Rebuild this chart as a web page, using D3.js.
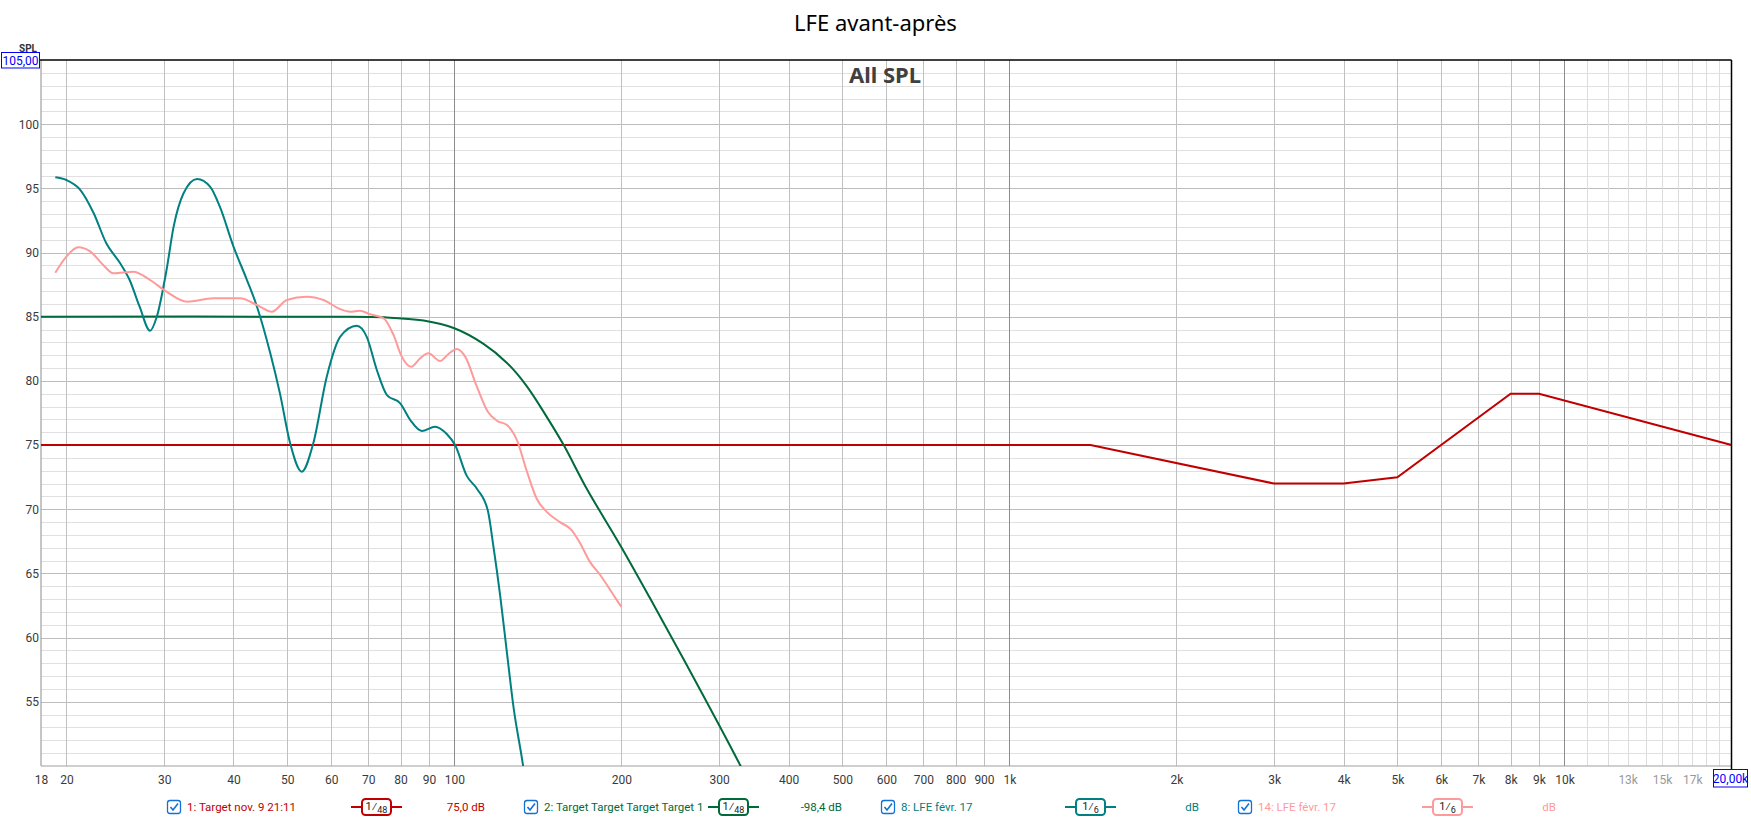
<!DOCTYPE html>
<html>
<head>
<meta charset="utf-8">
<script src="https://cdn.jsdelivr.net/npm/d3@7"></script>
<style>
  html, body { margin: 0; padding: 0; background: #fff; }
  svg { display: block; }
</style>
</head>
<body>
<svg id="chart" width="1751" height="818"></svg>
<script>
// ---------------- DATA ----------------
const titleText = "LFE avant-après";
const subTitleText = "All SPL";

// Series 1: red target (straight segments)
const redFreq = [18, 1400, 3000, 4000, 5000, 8000, 9000, 20000];
const redDb   = [75, 75, 72, 72, 72.5, 79, 79, 75];

// Series 2: dark green target
const greenFreq = [18, 60, 75, 88, 100, 112.7, 124.4, 135, 146.7, 157.4, 173.2, 199, 225, 259, 327, 340];
const greenDb   = [85, 85, 84.95, 84.7, 84.1, 82.9, 81.4, 79.6, 77.2, 75.0, 71.6, 67.2, 63.1, 58.3, 50.1, 48.6];

// Series 8: teal measurement
const tealFreq = [19.1, 20.0, 21.2, 22.4, 23.6, 25.0, 26.0, 27.1, 28.3, 29.1, 30.3, 31.2, 32.5, 34.4, 36.3, 37.8,
                  40.0, 42.3, 44.1, 46.6, 48.5, 50.6, 53.1, 55.7, 58.9, 62.3, 66.7, 69.5, 72.5, 75.6, 79.9, 83.3,
                  87.4, 92.3, 96.9, 100.3, 105.3, 109.8, 114.9, 117.6, 121, 124.4, 127.8, 132.9, 135];
const tealDb   = [95.86, 95.65, 94.87, 93.06, 90.72, 89.16, 87.86, 85.78, 83.91, 85.0, 88.64, 92.0, 94.6, 95.73, 95.13, 93.57,
                  90.46, 87.86, 85.78, 82.15, 79.03, 75.14, 72.93, 75.14, 80.33, 83.45, 84.3, 83.45, 80.85, 78.9, 78.25, 76.95,
                  76.1, 76.43, 75.86, 75.0, 72.6, 71.6, 69.9, 67.1, 63.2, 58.8, 54.6, 50.1, 48.0];

// Series 14: pink measurement
const pinkFreq = [19.1, 20.0, 21.0, 22.1, 23.3, 24.3, 26.4, 28.3, 30.3, 33.0, 36.8, 41.1, 44.1, 46.9, 49.9, 54.2,
                  58.1, 62.2, 64.9, 67.6, 70.5, 74.6, 77.7, 80.4, 83.6, 86.8, 89.8, 94.2, 97.6, 101, 104.6, 109.8,
                  114.9, 119.3, 124.4, 129.6, 135, 140.8, 146.7, 155, 162.5, 168.3, 175.5, 183, 195, 200];
const pinkDb   = [88.43, 89.68, 90.41, 90.07, 89.03, 88.38, 88.51, 87.86, 86.95, 86.17, 86.43, 86.43, 85.91, 85.39, 86.3, 86.56,
                  86.3, 85.6, 85.39, 85.47, 85.19, 84.88, 83.58, 81.89, 81.1, 81.76, 82.15, 81.55, 82.1, 82.49, 81.89, 79.55,
                  77.6, 76.9, 76.56, 75.4, 73.0, 70.8, 69.8, 69.0, 68.4, 67.4, 65.9, 64.9, 63.1, 62.4];

// Axis ticks
const xTickValues = [18, 20, 30, 40, 50, 60, 70, 80, 90, 100, 200, 300, 400, 500, 600, 700, 800, 900,
                     1000, 2000, 3000, 4000, 5000, 6000, 7000, 8000, 9000, 10000, 13000, 15000, 17000];
const xTickLabels = ["18", "20", "30", "40", "50", "60", "70", "80", "90", "100", "200", "300", "400", "500", "600", "700", "800", "900",
                     "1k", "2k", "3k", "4k", "5k", "6k", "7k", "8k", "9k", "10k", "13k", "15k", "17k"];
const xFaintLabels = [13000, 15000, 17000];
const xGridMajor = [20, 30, 40, 50, 60, 70, 80, 90, 200, 300, 400, 500, 600, 700, 800, 900,
                    2000, 3000, 4000, 5000, 6000, 7000, 8000, 9000];
const xGridDecade = [100, 1000, 10000];
const xGridMinor = [11000, 12000, 13000, 14000, 15000, 16000, 17000, 18000, 19000];
const yTickValues = [55, 60, 65, 70, 75, 80, 85, 90, 95, 100];
const yGridMinor = [51, 52, 53, 54, 56, 57, 58, 59, 61, 62, 63, 64, 66, 67, 68, 69, 71, 72, 73, 74, 76, 77, 78, 79,
                    81, 82, 83, 84, 86, 87, 88, 89, 91, 92, 93, 94, 96, 97, 98, 99, 101, 102, 103, 104];
const yMaxLabel = "105,00";
const xMaxLabel = "20,00k";
const yAxisName = "SPL";

// Legend
const legendNames = ["1: Target nov. 9 21:11", "2: Target Target Target Target 1", "8: LFE févr. 17", "14: LFE févr. 17"];
const legendSmooth = ["48", "48", "6", "6"];
const legendValues = ["75,0 dB", "-98,4 dB", "dB", "dB"];
const seriesColors = ["#c00000", "#006a3a", "#008080", "#ff9a9a"];

// ---------------- CHART ----------------
const svg = d3.select("#chart");
const defs = svg.append("defs");
const L = 41, R = 1731.5, T = 60, B = 766;
const x = d3.scaleLog().domain([18, 20000]).range([L, R]);
const y = d3.scaleLinear().domain([50, 105]).range([B, T]);
const uiFont = "Roboto, 'Noto Sans', sans-serif";

defs.append("clipPath").attr("id", "plotClip")
  .append("rect").attr("x", L).attr("y", T).attr("width", R - L).attr("height", B - T);

// Grids (via axes)
function grid(axis, cls, color, transform) {
  const g = svg.append("g").attr("class", cls).attr("transform", transform).call(axis);
  g.select(".domain").remove();
  g.selectAll("text").remove();
  g.selectAll("line").attr("stroke", color).attr("stroke-width", 1).attr("shape-rendering", "crispEdges");
  return g;
}
grid(d3.axisLeft(y).tickValues(yGridMinor).tickSize(-(R - L)).tickFormat(""), "ygrid-minor", "#e0e0e0", `translate(${L},0)`);
grid(d3.axisLeft(y).tickValues(yTickValues).tickSize(-(R - L)).tickFormat(""), "ygrid-major", "#bdbdbd", `translate(${L},0)`);
grid(d3.axisBottom(x).tickValues(xGridMinor).tickSize(-(B - T)).tickFormat(""), "xgrid-minor", "#dcdcdc", `translate(0,${B})`);
grid(d3.axisBottom(x).tickValues(xGridMajor).tickSize(-(B - T)).tickFormat(""), "xgrid-major", "#c0c0c0", `translate(0,${B})`);
grid(d3.axisBottom(x).tickValues(xGridDecade).tickSize(-(B - T)).tickFormat(""), "xgrid-decade", "#8c8c8c", `translate(0,${B})`);

// Axis frame
svg.append("line").attr("x1", L).attr("x2", L).attr("y1", T).attr("y2", B)
  .attr("stroke", "#a0a0a0").attr("stroke-width", 1.2);
svg.append("line").attr("x1", L).attr("x2", R).attr("y1", B).attr("y2", B)
  .attr("stroke", "#a0a0a0").attr("stroke-width", 1.2);

// Y axis labels
const yAx = svg.append("g").attr("transform", `translate(${L},0)`)
  .call(d3.axisLeft(y).tickValues(yTickValues).tickSize(0).tickPadding(2).tickFormat(d => String(d)));
yAx.select(".domain").remove();
yAx.selectAll("text").attr("font-family", uiFont).attr("font-size", 12).attr("fill", "#3a3a3a");

// X axis labels
const xAx = svg.append("g").attr("transform", `translate(0,${B})`)
  .call(d3.axisBottom(x).tickValues(xTickValues).tickSize(0).tickPadding(9)
    .tickFormat((d, i) => xTickLabels[i]));
xAx.select(".domain").remove();
xAx.selectAll("text").attr("font-family", uiFont).attr("font-size", 12)
  .attr("fill", d => xFaintLabels.includes(d) ? "#9a9a9a" : "#3a3a3a");

// Curves
const plot = svg.append("g").attr("clip-path", "url(#plotClip)");
const lineSmooth = d3.line().x(d => x(d[0])).y(d => y(d[1])).curve(d3.curveMonotoneX);
const lineRound = d3.line().x(d => x(d[0])).y(d => y(d[1])).curve(d3.curveCatmullRom.alpha(0.5));
const lineStraight = d3.line().x(d => x(d[0])).y(d => y(d[1]));

plot.append("path").datum(d3.zip(redFreq, redDb)).attr("d", lineStraight)
  .attr("fill", "none").attr("stroke", seriesColors[0]).attr("stroke-width", 2);
plot.append("path").datum(d3.zip(greenFreq, greenDb)).attr("d", lineRound)
  .attr("fill", "none").attr("stroke", seriesColors[1]).attr("stroke-width", 2);
plot.append("path").datum(d3.zip(tealFreq, tealDb)).attr("d", lineSmooth)
  .attr("fill", "none").attr("stroke", seriesColors[2]).attr("stroke-width", 2);
plot.append("path").datum(d3.zip(pinkFreq, pinkDb)).attr("d", lineSmooth)
  .attr("fill", "none").attr("stroke", seriesColors[3]).attr("stroke-width", 2);

// Cursor lines (top and right, black)
svg.append("line").attr("x1", 39).attr("x2", R).attr("y1", T).attr("y2", T)
  .attr("stroke", "#000").attr("stroke-width", 1.5);
svg.append("line").attr("x1", R).attr("x2", R).attr("y1", T).attr("y2", 769)
  .attr("stroke", "#000").attr("stroke-width", 1.5);

// Y axis name and max-value box
svg.append("text").attr("x", 28).attr("y", 51.5).attr("text-anchor", "middle")
  .attr("font-family", uiFont).attr("font-size", 10).attr("font-weight", "bold").attr("fill", "#333")
  .text(yAxisName);
svg.append("rect").attr("x", 1.5).attr("y", 52.5).attr("width", 38).attr("height", 15.5)
  .attr("fill", "#fff").attr("stroke", "#0000ff").attr("stroke-width", 1);
svg.append("text").attr("x", 20.5).attr("y", 64.5).attr("text-anchor", "middle")
  .attr("font-family", uiFont).attr("font-size", 12).attr("fill", "#0000ff").text(yMaxLabel);

// X max-value box
svg.append("rect").attr("x", 1713.5).attr("y", 769.5).attr("width", 34).attr("height", 17.5)
  .attr("fill", "#fff").attr("stroke", "#0000ff").attr("stroke-width", 1);
svg.append("text").attr("x", 1730.5).attr("y", 782.5).attr("text-anchor", "middle")
  .attr("font-family", uiFont).attr("font-size", 12).attr("fill", "#0000ff").text(xMaxLabel);

// Titles
svg.append("text").attr("x", 875.5).attr("y", 31).attr("text-anchor", "middle")
  .attr("font-family", "'Noto Sans', sans-serif").attr("font-size", 22).attr("fill", "#000").text(titleText);
svg.append("text").attr("x", 885).attr("y", 83).attr("text-anchor", "middle")
  .attr("font-family", "'Noto Sans', sans-serif").attr("font-size", 22).attr("font-weight", "bold")
  .attr("fill", "#404040").text(subTitleText);

// Legend
const legY = 807;
const leg = svg.append("g");
legendNames.forEach((name, i) => {
  const gx = 167 + i * 357;
  const c = seriesColors[i];
  const g = leg.append("g").attr("transform", `translate(${gx},0)`);
  // checkbox
  g.append("rect").attr("x", 0.5).attr("y", legY - 6.5).attr("width", 13).attr("height", 13).attr("rx", 2.5)
    .attr("fill", "#fff").attr("stroke", "#1570d6").attr("stroke-width", 1.3);
  g.append("path").attr("d", `M3.5,${legY} L6,${legY + 3} L11,${legY - 3.5}`)
    .attr("fill", "none").attr("stroke", "#1570d6").attr("stroke-width", 1.6);
  // name (clipped before the smoothing symbol); clip rect in group-local coordinates
  const clipId = "legClip" + i;
  defs.append("clipPath").attr("id", clipId)
    .append("rect").attr("x", 18).attr("y", legY - 12).attr("width", 166).attr("height", 24);
  g.append("text").attr("x", 20).attr("y", legY + 4.2)
    .attr("clip-path", `url(#${clipId})`)
    .attr("font-family", uiFont).attr("font-size", 11.5).attr("fill", c).text(name);
  // smoothing symbol
  g.append("line").attr("x1", 184).attr("x2", 235).attr("y1", legY).attr("y2", legY)
    .attr("stroke", c).attr("stroke-width", 2);
  g.append("rect").attr("x", 195).attr("y", legY - 8).attr("width", 29).attr("height", 16).attr("rx", 3.5)
    .attr("fill", "#fff").attr("stroke", c).attr("stroke-width", 2);
  const st = g.append("text").attr("x", 209.5).attr("y", legY + 4).attr("text-anchor", "middle")
    .attr("font-family", uiFont).attr("fill", "#222");
  st.append("tspan").attr("font-size", 11).attr("dy", -1).text("1");
  st.append("tspan").attr("font-size", 12).attr("dy", 1).text("⁄");
  st.append("tspan").attr("font-size", 9).attr("dy", 1.5).text(legendSmooth[i]);
  // value
  g.append("text").attr("x", 318).attr("y", legY + 4.2).attr("text-anchor", "end")
    .attr("font-family", uiFont).attr("font-size", 11.5).attr("fill", c).text(legendValues[i]);
});
</script>
</body>
</html>
